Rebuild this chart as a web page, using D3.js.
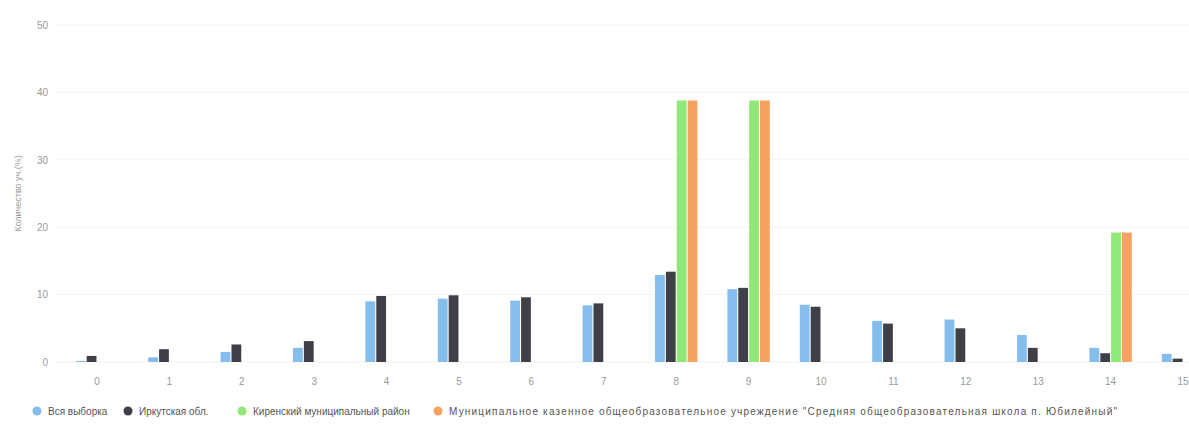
<!DOCTYPE html>
<html><head><meta charset="utf-8">
<script src="https://cdn.jsdelivr.net/npm/d3@7"></script>
<style>
html,body{margin:0;padding:0;background:#fff;}
svg{display:block;font-family:"Liberation Sans","DejaVu Sans",Arial,sans-serif;}
</style></head>
<body>
<svg id="c" width="1189" height="437"></svg>
<script>
const categories = ["0","1","2","3","4","5","6","7","8","9","10","11","12","13","14","15"];
const seriesNames = ["Вся выборка","Иркутская обл.","Киренский муниципальный район","Муниципальное казенное общеобразовательное учреждение \"Средняя общеобразовательная школа п. Юбилейный\""];
const allSample = [0.15, 0.7, 1.5, 2.1, 9.0, 9.4, 9.1, 8.4, 12.9, 10.8, 8.5, 6.1, 6.3, 4.0, 2.1, 1.2];
const irkutsk   = [0.9, 1.9, 2.6, 3.1, 9.8, 9.9, 9.6, 8.7, 13.4, 11.0, 8.2, 5.7, 5.0, 2.1, 1.3, 0.5];
const kirensky  = [0, 0, 0, 0, 0, 0, 0, 0, 38.8, 38.8, 0, 0, 0, 0, 19.2, 0];
const school    = [0, 0, 0, 0, 0, 0, 0, 0, 38.8, 38.8, 0, 0, 0, 0, 19.2, 0];
const yTicks = [0, 10, 20, 30, 40, 50];
const yTitle = "Количество уч.(%)";
const colors = ["#85bdec", "#3f4047", "#90e878", "#f6a35f"];

const seriesValues = [allSample, irkutsk, kirensky, school];
const svg = d3.select("#c");

const x = d3.scaleBand().domain(categories).range([60.8, 1219.2]).paddingInner(0).paddingOuter(0);
const y = d3.scaleLinear().domain([0, 50]).range([362, 25]);

// grid
svg.append("g").selectAll("line").data(yTicks).join("line")
  .attr("x1", 55).attr("x2", 1189)
  .attr("y1", d => y(d)).attr("y2", d => y(d))
  .attr("stroke", "#f3f3f3").attr("stroke-width", 1);

// y axis labels
const yAxis = d3.axisLeft(y).tickValues(yTicks).tickSize(0).tickPadding(0);
const yg = svg.append("g").attr("transform", "translate(48,0)").call(yAxis);
yg.select(".domain").remove();
yg.selectAll("text").attr("fill", "#9a9a9a").attr("font-size", 10);

svg.append("text")
  .attr("transform", "translate(21," + y(25) + ") rotate(-90)")
  .attr("text-anchor", "middle")
  .attr("font-size", 9).attr("fill", "#9a9a9a")
  .text(yTitle);

// bars
const step = x.bandwidth();
const groupPad = 0.2;
const inner = d3.scaleBand().domain(d3.range(seriesValues.length))
  .range([step * groupPad, step * (1 - groupPad)]).paddingInner(0.1).paddingOuter(0.05);

const groups = svg.append("g").selectAll("g").data(categories).join("g")
  .attr("transform", d => "translate(" + x(d) + ",0)");
groups.selectAll("rect").data((d, i) => seriesValues.map((s, k) => ({k, v: s[i]})))
  .join("rect")
  .filter(d => d.v > 0)
  .attr("x", d => inner(d.k))
  .attr("width", inner.bandwidth())
  .attr("y", d => y(d.v))
  .attr("height", d => y(0) - y(d.v))
  .attr("fill", d => colors[d.k]);

// x axis labels
const xAxis = d3.axisBottom(x).tickSize(0).tickPadding(0);
const xg = svg.append("g").attr("transform", "translate(0,378)").call(xAxis);
xg.select(".domain").remove();
xg.selectAll("text").attr("fill", "#9a9a9a").attr("font-size", 10);

// legend
const legendX = [37, 128, 242, 438];
const lg = svg.append("g").selectAll("g").data(seriesNames).join("g")
  .attr("transform", (d, i) => "translate(" + legendX[i] + ",411)");
lg.append("circle").attr("r", 4.5).attr("fill", (d, i) => colors[i]);
lg.append("text").attr("x", 11).attr("dy", "0.35em")
  .attr("font-size", 10).attr("fill", "#555")
  .each(function(d, i) {
    if (i === 3) d3.select(this).attr("textLength", 668).attr("lengthAdjust", "spacing");
  })
  .text(d => d);
</script>
</body></html>
